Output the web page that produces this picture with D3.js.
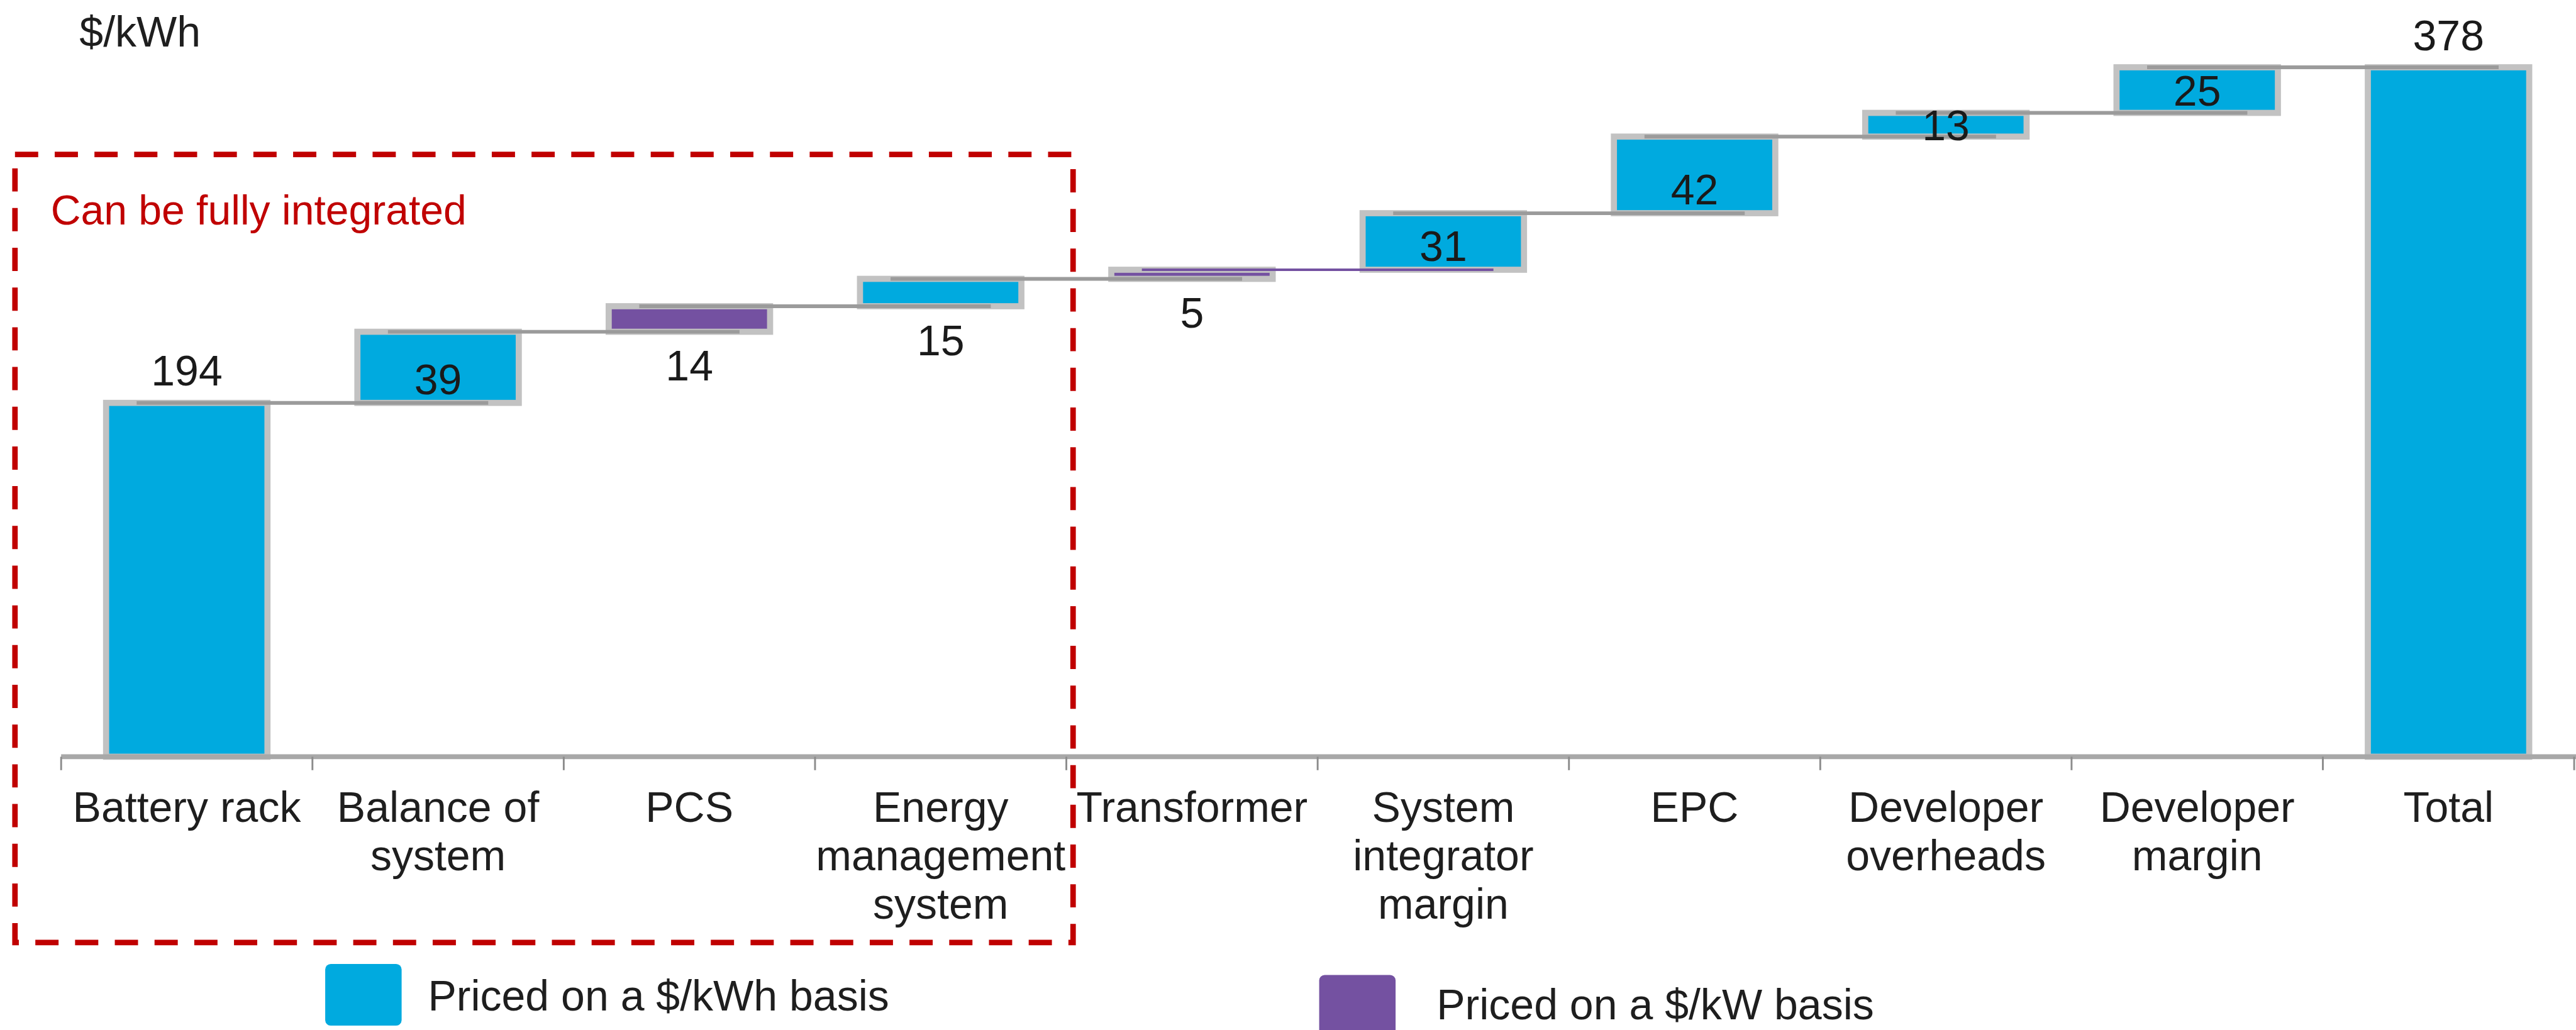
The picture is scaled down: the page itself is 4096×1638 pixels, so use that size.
<!DOCTYPE html>
<html>
<head>
<meta charset="utf-8">
<script src="https://cdn.jsdelivr.net/npm/d3@7"></script>
<style>
  html, body { margin: 0; padding: 0; background: #ffffff; }
  svg { display: block; }
  text { font-family: "Liberation Sans", Arial, Helvetica, sans-serif; }
</style>
</head>
<body>
<script>
// ---------- data ----------
const categories = ["Battery rack", "Balance of system", "PCS", "Energy management system", "Transformer",
  "System integrator margin", "EPC", "Developer overheads", "Developer margin", "Total"];
const categoryLines = [["Battery rack"], ["Balance of", "system"], ["PCS"], ["Energy", "management", "system"],
  ["Transformer"], ["System", "integrator", "margin"], ["EPC"], ["Developer", "overheads"], ["Developer", "margin"], ["Total"]];
const values = [194, 39, 14, 15, 5, 31, 42, 13, 25, 378];
const barKinds = ["step", "step", "step", "step", "step", "step", "step", "step", "step", "total"];
const pricingBasis = ["kWh", "kWh", "kW", "kWh", "kW", "kWh", "kWh", "kWh", "kWh", "kWh"];
const labelPlacement = ["above", "inside", "below", "below", "below", "inside", "inside", "inside", "inside", "above"];
const legendBasis = ["kWh", "kW"];
const legendLabels = ["Priced on a $/kWh basis", "Priced on a $/kW basis"];
const unitLabel = "$/kWh";
const groupLabel = "Can be fully integrated";
const groupedCategories = ["Battery rack", "Balance of system", "PCS", "Energy management system"];

// ---------- layout (reference pixel space, scaled by viewBox) ----------
const W = 4214, H = 1685;
const colors = { kWh: "#00aadf", kW: "#7451a1" };
const fontSize = 70;

const svg = d3.select("body").append("svg")
  .attr("width", 4096).attr("height", 1638)
  .attr("viewBox", `0 0 ${W} ${H}`);

const x = d3.scaleBand().domain(categories).range([100, 100 + 411.1 * categories.length]).padding(0);
const y = d3.scaleLinear().domain([0, d3.max(values)]).range([1238, 110]);
const barW = 264;

let run = 0;
const data = categories.map((c, i) => {
  let start, end;
  if (barKinds[i] === "total") { start = 0; end = values[i]; }
  else { start = run; end = run + values[i]; run = end; }
  return { cat: c, i, value: values[i], start, end, basis: pricingBasis[i], place: labelPlacement[i], lines: categoryLines[i] };
});
const left = d => x(d.cat) + (x.bandwidth() - barW) / 2;
const cx = d => x(d.cat) + x.bandwidth() / 2;

// unit label
svg.append("text").attr("x", 130).attr("y", 76).attr("font-size", fontSize).attr("fill", "#1e1e1e").text(unitLabel);

// bars
svg.append("g").selectAll("rect").data(data).join("rect")
  .attr("x", left)
  .attr("y", d => y(d.end))
  .attr("width", barW)
  .attr("height", d => y(d.start) - y(d.end))
  .attr("fill", d => colors[d.basis])
  .attr("stroke", "#c2c2c2")
  .attr("stroke-width", 10);

// connectors
const conn = data.slice(0, -1).map((d, k) => ({ from: d, to: data[k + 1] }));
svg.append("g").selectAll("line").data(conn).join("line")
  .attr("x1", c => left(c.from) + 50)
  .attr("x2", c => left(c.to) + barW - 50)
  .attr("y1", c => y(c.from.end))
  .attr("y2", c => y(c.from.end))
  .attr("stroke", c => (c.from.basis === "kW" && c.from.i > 2) ? colors.kW : "#9b9b9b")
  .attr("stroke-width", c => (c.from.basis === "kW" && c.from.i > 2) ? 4 : 6);

// axis
const axisY = y(0);
const x0 = x.range()[0];
svg.append("line").attr("x1", x0).attr("x2", W).attr("y1", axisY).attr("y2", axisY)
  .attr("stroke", "#a8a8a8").attr("stroke-width", 8);
const boundaries = d3.range(categories.length + 1).map(k => x0 + k * x.step());
svg.append("g").selectAll("line").data(boundaries).join("line")
  .attr("x1", d => d).attr("x2", d => d)
  .attr("y1", axisY).attr("y2", axisY + 22)
  .attr("stroke", "#8c8c8c").attr("stroke-width", 3);

// category labels
const catG = svg.append("g");
data.forEach(d => {
  const t = catG.append("text").attr("text-anchor", "middle").attr("font-size", fontSize).attr("fill", "#1e1e1e");
  d.lines.forEach((ln, j) => {
    t.append("tspan").attr("x", cx(d)).attr("y", 1345 + j * 79).text(ln);
  });
});

// value labels
const capH = fontSize * 0.716;
svg.append("g").selectAll("text").data(data).join("text")
  .attr("x", cx)
  .attr("y", d => {
    const top = y(d.end), bot = y(d.start);
    if (d.place === "above") return top - 28;
    if (d.place === "below") return bot + 80;
    return Math.max((top + bot) / 2 + capH / 2, bot - 14);
  })
  .attr("text-anchor", "middle")
  .attr("font-size", fontSize)
  .attr("fill", "#1a1a1a")
  .text(d => d.value);

// dashed group box
const gFirst = data.find(d => d.cat === groupedCategories[0]);
const gLast = data.find(d => d.cat === groupedCategories[groupedCategories.length - 1]);
const boxX1 = x(gFirst.cat) - 75.5;
const boxX2 = x(gLast.cat) + x.bandwidth() + 11;
svg.append("rect")
  .attr("x", boxX1).attr("y", 252.5)
  .attr("width", boxX2 - boxX1).attr("height", 1542 - 252.5)
  .attr("fill", "none").attr("stroke", "#c00000").attr("stroke-width", 9)
  .attr("stroke-dasharray", "38 27");
svg.append("text").attr("x", 83).attr("y", 367).attr("font-size", 68).attr("fill", "#c00000").text(groupLabel);

// legend
const legendPos = [{ sx: 532, sy: 1577, tx: 700, ty: 1653 }, { sx: 2158, sy: 1595, tx: 2350, ty: 1668 }];
legendBasis.forEach((b, k) => {
  const p = legendPos[k];
  svg.append("rect").attr("x", p.sx).attr("y", p.sy).attr("width", 125).attr("height", 101)
    .attr("rx", 9).attr("fill", colors[b]);
  svg.append("text").attr("x", p.tx).attr("y", p.ty).attr("font-size", fontSize).attr("fill", "#1e1e1e").text(legendLabels[k]);
});
</script>
</body>
</html>
